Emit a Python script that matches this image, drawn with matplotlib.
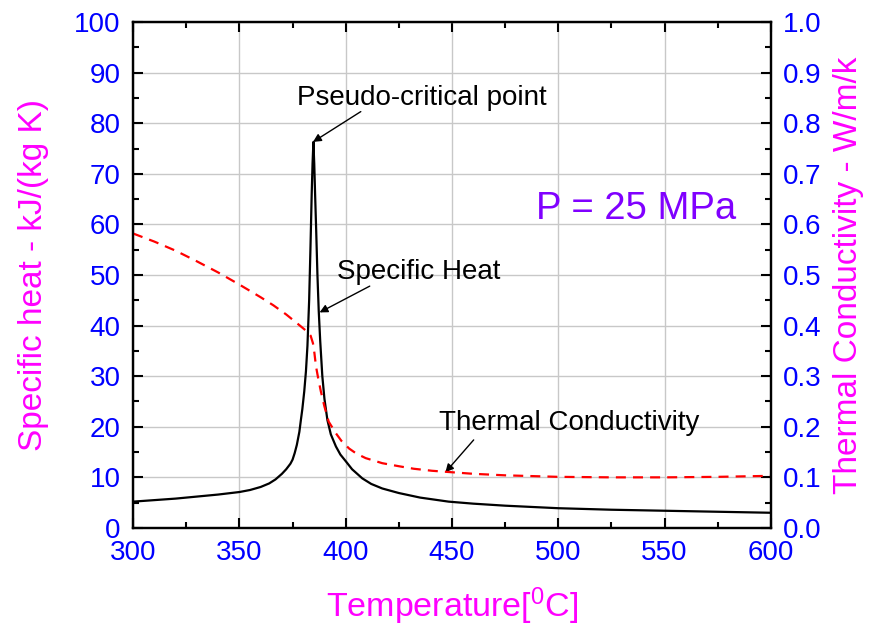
import matplotlib
matplotlib.use("Agg")
from matplotlib import pyplot as plt
from matplotlib.ticker import MultipleLocator, FormatStrFormatter

plt.rcParams['font.family'] = 'Liberation Sans'
plt.rcParams['mathtext.fontset'] = 'custom'
plt.rcParams['mathtext.rm'] = 'Liberation Sans'
plt.rcParams['mathtext.default'] = 'regular'

# Specific heat, kJ/(kg K)
cp_temp = [300, 310, 320, 330, 340, 350, 355, 360, 364, 367, 370, 372, 374,
           375, 376, 377, 378.2, 378.9, 379.6, 380.5, 381.3, 382, 382.8,
           383.4, 384, 384.4, 384.8, 385.2, 385.6, 386.1, 386.7, 387.3, 388,
           389, 390, 391.4, 393, 395.4, 397.5, 400, 403, 407.8, 412, 417.2,
           425, 435, 448.4, 460, 475, 490, 500, 525, 550, 575, 600]
cp_vals = [5.2, 5.5, 5.8, 6.2, 6.6, 7.1, 7.5, 8.1, 8.8, 9.6, 10.7, 11.6, 12.7,
           13.5, 14.8, 16.4, 19, 21.3, 23.5, 27, 31, 36, 45,
           55, 66, 72, 76.3, 72, 66, 59, 50, 43, 37,
           30, 25.5, 21.3, 18.5, 16.1, 14.5, 13.2, 11.6, 9.8, 8.7, 7.8,
           6.9, 6.0, 5.2, 4.8, 4.4, 4.1, 3.9, 3.6, 3.4, 3.2, 3.0]

# Thermal conductivity, W/m/K
k_temp = [300, 310, 320, 330, 340, 350, 360, 366, 372, 377, 381.3, 383.5,
          384.6, 385.3, 386, 387, 388.3, 390, 392, 395.4, 398, 401.6, 405,
          409.4, 417.2, 425, 432, 440.6, 447, 460, 475, 500, 525, 550, 575,
          600]
k_vals = [0.582, 0.566, 0.548, 0.527, 0.505, 0.481, 0.456, 0.44, 0.422,
          0.405, 0.39, 0.38, 0.365, 0.345, 0.32, 0.297, 0.27, 0.24, 0.21,
          0.187, 0.172, 0.157, 0.147, 0.138, 0.128, 0.122, 0.117, 0.113,
          0.111, 0.107, 0.104, 0.101, 0.100, 0.100, 0.101, 0.103]

fig = plt.figure(figsize=(8.73, 6.3), dpi=100)
ax = fig.add_axes([0.1525, 0.162, 0.7305, 0.803])
ax2 = ax.twinx()

ax.plot(cp_temp, cp_vals, color='black', lw=1.6)
ax2.plot(k_temp, k_vals, color='red', lw=1.6, linestyle=(0, (4.5, 3.2)))

ax.set_xlim(300, 600)
ax.set_ylim(0, 100)
ax2.set_ylim(0, 1.0)

ax.xaxis.set_major_locator(MultipleLocator(50))
ax.xaxis.set_minor_locator(MultipleLocator(25))
ax.yaxis.set_major_locator(MultipleLocator(10))
ax.yaxis.set_minor_locator(MultipleLocator(5))
ax2.yaxis.set_major_locator(MultipleLocator(0.1))
ax2.yaxis.set_minor_locator(MultipleLocator(0.05))
ax2.yaxis.set_major_formatter(FormatStrFormatter('%.1f'))

ax.grid(True, which='major', color='#c8c8c8', lw=1)
ax.set_axisbelow(True)

for a in (ax, ax2):
    for s in a.spines.values():
        s.set_linewidth(1.6)
ax.tick_params(which='both', direction='in', top=True, right=False,
               labelsize=20, labelcolor='blue', width=1.5, pad=9)
ax.tick_params(which='major', length=7)
ax.tick_params(which='minor', length=4.5)
ax2.tick_params(which='both', direction='in', labelsize=20,
                labelcolor='blue', width=1.5, pad=9)
ax2.tick_params(which='major', length=7)
ax2.tick_params(which='minor', length=4.5)

ax.set_xlabel('Temperature[$^0$C]', fontsize=24.5, color='magenta', labelpad=14)
ax.set_ylabel('Specific heat - kJ/(kg K)', fontsize=24, color='magenta', labelpad=18)
ax2.set_ylabel('Thermal Conductivity - W/m/k', fontsize=24, color='magenta', labelpad=8)

arrow = dict(arrowstyle='-|>', color='black', lw=1, mutation_scale=12,
             shrinkA=0, shrinkB=0)
ax.text(377.2, 83.6, 'Pseudo-critical point', fontsize=20, va='baseline')
ax.annotate('', xy=(384.6, 76.3), xytext=(407.1, 82.3), arrowprops=arrow)
ax.text(396.1, 49.3, 'Specific Heat', fontsize=20, va='baseline')
ax.annotate('', xy=(387.7, 42.6), xytext=(411.3, 47.8), arrowprops=arrow)
ax.text(443.8, 19.4, 'Thermal Conductivity', fontsize=20, va='baseline')
ax.annotate('', xy=(446.9, 11.0), xytext=(460.2, 17.4), arrowprops=arrow)
ax.text(489.3, 61.0, 'P = 25 MPa', fontsize=27.5, color='#8000ff', va='baseline')

fig.savefig('out.png', dpi=100)
